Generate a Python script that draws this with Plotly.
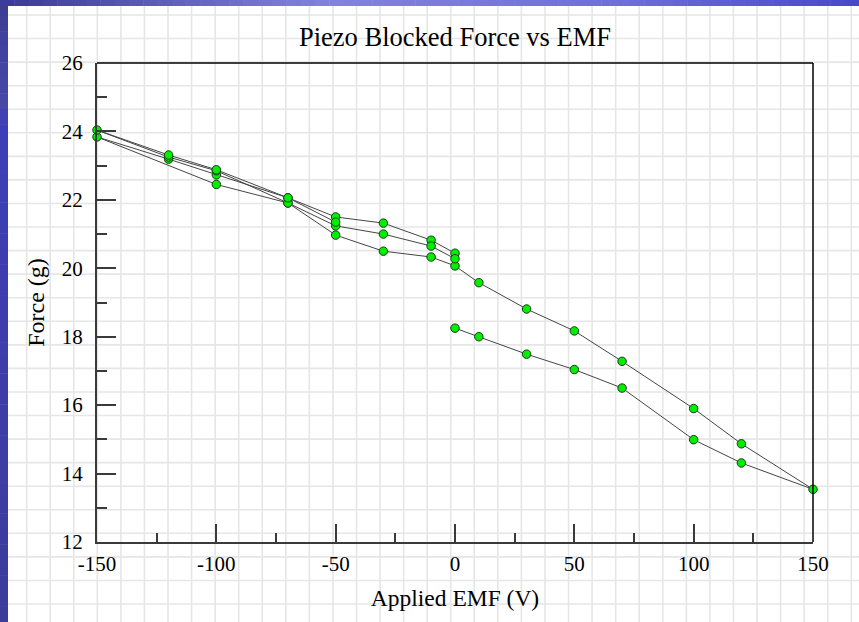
import plotly.graph_objects as go

# ---- data (chronological sweep segments) ----
emf_up_pos = [0, 10, 30, 50, 70, 100, 120, 150]
force_up_pos = [18.25, 18.00, 17.49, 17.04, 16.50, 14.99, 14.31, 13.54]

emf_down_pos = [120, 100, 70, 50, 30, 10, 0]
force_down_pos = [14.87, 15.90, 17.28, 18.17, 18.81, 19.58, 20.07]

emf_down_neg1 = [-10, -30, -50, -70, -100, -150]
force_down_neg1 = [20.33, 20.50, 20.97, 21.91, 22.45, 23.84]

emf_up_neg1 = [-120, -100, -70, -50, -30, -10, 0]
force_up_neg1 = [23.19, 22.73, 22.06, 21.50, 21.32, 20.82, 20.44]

emf_down_neg2 = [0, -10, -30, -50, -70, -100, -120, -150]
force_down_neg2 = [20.28, 20.65, 21.00, 21.24, 21.91, 22.85, 23.25, 24.04]

emf_up_neg2 = [-120, -100, -70, -50]
force_up_neg2 = [23.31, 22.88, 22.06, 21.35]

x_ticks = [-150, -100, -50, 0, 50, 100, 150]
y_ticks = [12, 14, 16, 18, 20, 22, 24, 26]

emf = emf_up_pos + emf_down_pos + emf_down_neg1 + emf_up_neg1 + emf_down_neg2 + emf_up_neg2
force = force_up_pos + force_down_pos + force_down_neg1 + force_up_neg1 + force_down_neg2 + force_up_neg2

# ---- layout geometry (pixels) ----
W, H = 859, 622
L, R, T, B = 97, 813, 63, 542
pw, ph = R - L, B - T

def px(xp):
    return (xp - L) / pw

def py(yp):
    return (B - yp) / ph

FONT = "Liberation Serif, Times New Roman, serif"

shapes = []
# background grid paper
gx = 3.1
while gx < W:
    shapes.append(dict(type="line", xref="paper", yref="paper", layer="below",
                       x0=px(gx), x1=px(gx), y0=py(0), y1=py(H),
                       line=dict(color="#e6e6e6", width=1.6)))
    gx += 23.56
gy = 15.0
while gy < H:
    shapes.append(dict(type="line", xref="paper", yref="paper", layer="below",
                       x0=px(0), x1=px(W), y0=py(gy), y1=py(gy),
                       line=dict(color="#e6e6e6", width=1.6)))
    gy += 23.56

# blue slide bands (gradients approximated with thin strips)
def lerp(c1, c2, t):
    return tuple(round(a + (b - a) * t) for a, b in zip(c1, c2))

top_stops = [(0, (58, 58, 150)), (330, (130, 130, 225)), (620, (110, 110, 220)), (859, (72, 72, 205))]
n = 60
for i in range(n):
    x0 = W * i / n
    x1 = W * (i + 1) / n + 0.5
    xm = (x0 + x1) / 2
    for (a, ca), (b, cb) in zip(top_stops[:-1], top_stops[1:]):
        if a <= xm <= b:
            c = lerp(ca, cb, (xm - a) / (b - a))
            break
    shapes.append(dict(type="rect", xref="paper", yref="paper", layer="below",
                       x0=px(x0), x1=px(x1), y0=py(0), y1=py(6),
                       fillcolor="rgb(%d,%d,%d)" % c, line=dict(width=0)))
left_stops = [(0, (60, 60, 150)), (110, (72, 72, 170)), (120, (62, 62, 185)), (622, (60, 60, 155))]
n = 40
for i in range(n):
    y0 = H * i / n
    y1 = H * (i + 1) / n + 0.5
    ym = (y0 + y1) / 2
    for (a, ca), (b, cb) in zip(left_stops[:-1], left_stops[1:]):
        if a <= ym <= b:
            c = lerp(ca, cb, (ym - a) / (b - a))
            break
    shapes.append(dict(type="rect", xref="paper", yref="paper", layer="below",
                       x0=px(0), x1=px(8), y0=py(y0), y1=py(y1),
                       fillcolor="rgb(%d,%d,%d)" % c, line=dict(width=0)))

# top and right frame lines
shapes.append(dict(type="line", xref="paper", yref="paper", x0=0, x1=1, y0=1, y1=1,
                   line=dict(color="black", width=1.5)))
shapes.append(dict(type="line", xref="paper", yref="paper", x0=1, x1=1, y0=0, y1=1,
                   line=dict(color="black", width=1.5)))

fig = go.Figure()
fig.add_trace(go.Scatter(
    x=emf, y=force, mode="lines+markers",
    line=dict(color="#454545", width=1),
    marker=dict(color="#00ee00", size=8.5, line=dict(color="#1e3a1e", width=1)),
    showlegend=False, cliponaxis=False,
))

fig.update_layout(
    width=W, height=H,
    margin=dict(l=L, r=W - R, t=T, b=H - B),
    paper_bgcolor="white", plot_bgcolor="rgba(0,0,0,0)",
    shapes=shapes,
    title=dict(text="Piezo Blocked Force vs EMF", x=0.5, xref="paper",
               y=1 - 37 / H, yref="container", yanchor="middle", xanchor="center",
               font=dict(family=FONT, size=26.5, color="black")),
    font=dict(family=FONT, color="black"),
)
fig.update_xaxes(
    range=[-150, 150], showgrid=False, zeroline=False,
    showline=True, linecolor="#3a3a3a", linewidth=2,
    ticks="inside", ticklen=18, tickwidth=1.5, tickcolor="#3a3a3a",
    tickvals=x_ticks, ticktext=[str(v) for v in x_ticks],
    tickfont=dict(family=FONT, size=21, color="black"),
    ticklabelstandoff=2,
    minor=dict(ticks="inside", ticklen=9, dtick=25, tick0=0, tickwidth=1.5, tickcolor="#3a3a3a"),
    title=dict(text="Applied EMF (V)", font=dict(family=FONT, size=23.5, color="black"), standoff=14),
)
fig.update_yaxes(
    range=[12, 26], showgrid=False, zeroline=False,
    showline=True, linecolor="#3a3a3a", linewidth=2,
    ticks="inside", ticklen=19, tickwidth=1.5, tickcolor="#3a3a3a",
    tickvals=y_ticks, ticktext=[str(v) for v in y_ticks],
    tickfont=dict(family=FONT, size=21, color="black"),
    ticklabelstandoff=8,
    minor=dict(ticks="inside", ticklen=10, dtick=1, tick0=0, tickwidth=1.5, tickcolor="#3a3a3a"),
    title=dict(text="Force (g)", font=dict(family=FONT, size=24, color="black"), standoff=10),
)

fig.write_html("out.html", config={"displayModeBar": False},
               post_script="document.body.style.margin='0';document.body.style.overflow='hidden';")
